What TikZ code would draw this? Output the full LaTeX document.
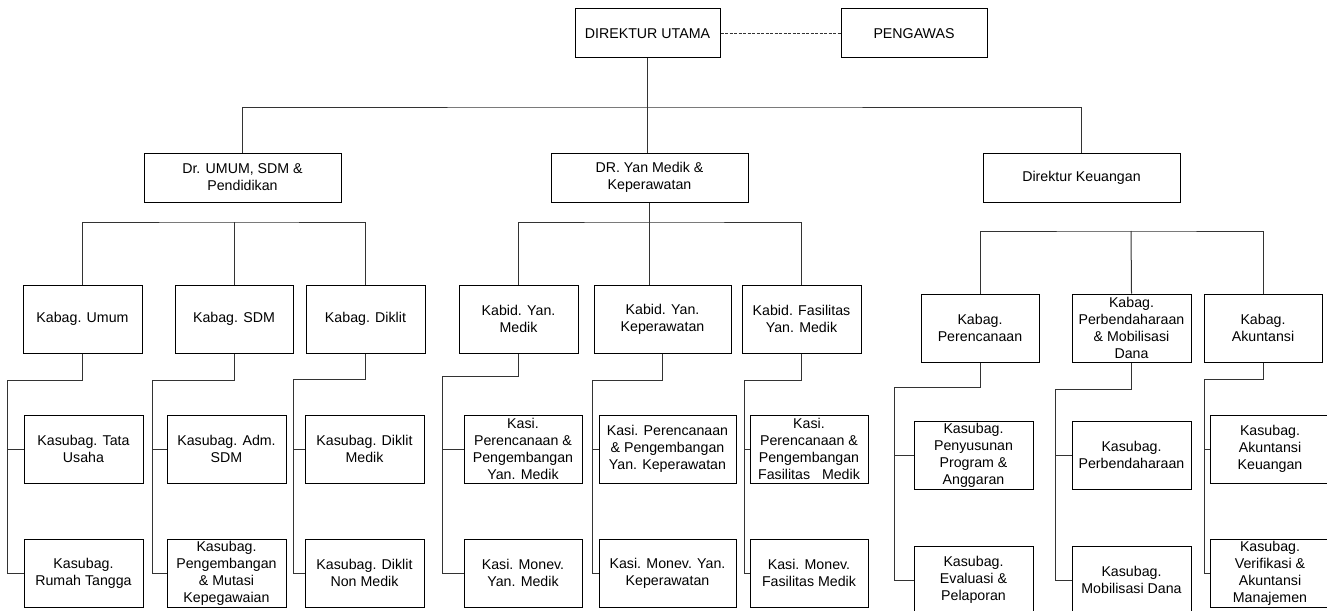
\documentclass[tikz,border=0pt]{standalone}
\usepackage{fontspec}
\setmainfont{Liberation Sans}
\tikzset{
  box/.style={draw=black, line width=1pt, inner sep=0pt, align=center, fill=white,
    font=\fontsize{14.2}{17}\selectfont},
  conn/.style={draw=black!80, line width=1pt},
  dashconn/.style={draw=black!80, line width=1pt, dash pattern=on 3pt off 1.5pt}
}
\newcommand{\boxat}[6]{\node[box,minimum width={(#3-#2)*1pt},minimum height={(#5-#4)*1pt}] (#1) at ({(#2+#3)/2},{(#4+#5)/2}) {#6};}
\begin{document}
\begin{tikzpicture}[x=1pt,y=-1pt]
\useasboundingbox (0,0) rectangle (1327,610);
\fill[white] (0,0) rectangle (1327,610);
\clip (0,0) rectangle (1327,610);

% level 1
\boxat{du}{575}{720}{9}{58}{DIREKTUR UTAMA}
\boxat{pg}{841}{987}{9}{58}{PENGAWAS}
% level 2
\boxat{d1}{144}{341}{153}{202}{Dr. UMUM, SDM \&\\Pendidikan}
\boxat{d2}{551}{748}{153}{202}{DR. Yan Medik \&\\Keperawatan}
\boxat{d3}{983}{1180}{153}{202}{Direktur Keuangan}
% level 3 left
\boxat{k1}{23}{142}{285}{353}{Kabag. Umum}
\boxat{k2}{175}{293}{285}{353}{Kabag. SDM}
\boxat{k3}{306}{425}{285}{353}{Kabag. Diklit}
% level 3 middle
\boxat{m1}{459}{578}{285}{353}{Kabid. Yan.\\Medik}
\boxat{m2}{594}{731}{285}{353}{Kabid. Yan.\\Keperawatan}
\boxat{m3}{742}{861}{285}{353}{Kabid. Fasilitas\\Yan. Medik}
% level 3 right
\boxat{r1}{921}{1039}{294}{362}{Kabag.\\Perencanaan}
\boxat{r2}{1072}{1191}{294}{362}{Kabag.\\Perbendaharaan\\\& Mobilisasi\\Dana}
\boxat{r3}{1204}{1322}{294}{362}{Kabag.\\Akuntansi}
% level 4/5 left
\boxat{s11}{24}{143}{415}{483}{Kasubag. Tata\\Usaha}
\boxat{s12}{24}{143}{539}{607}{Kasubag.\\Rumah Tangga}
\boxat{s21}{167}{286}{415}{483}{Kasubag. Adm.\\SDM}
\boxat{s22}{167}{286}{539}{607}{Kasubag.\\Pengembangan\\\& Mutasi\\Kepegawaian}
\boxat{s31}{305}{424}{415}{483}{Kasubag. Diklit\\Medik}
\boxat{s32}{305}{424}{539}{607}{Kasubag. Diklit\\Non Medik}
% level 4/5 middle
\boxat{t11}{464}{582}{415}{483}{Kasi.\\Perencanaan \&\\Pengembangan\\Yan. Medik}
\boxat{t12}{464}{582}{539}{607}{Kasi. Monev.\\Yan. Medik}
\boxat{t21}{599}{736}{415}{483}{Kasi. Perencanaan\\\& Pengembangan\\Yan. Keperawatan}
\boxat{t22}{599}{736}{539}{607}{Kasi. Monev. Yan.\\Keperawatan}
\boxat{t31}{750}{868}{415}{483}{Kasi.\\Perencanaan \&\\Pengembangan\\Fasilitas\ \ \ Medik}
\boxat{t32}{750}{868}{539}{607}{Kasi. Monev.\\Fasilitas Medik}
% level 4/5 right
\boxat{u11}{914}{1033}{421}{489}{Kasubag.\\Penyusunan\\Program \&\\Anggaran}
\boxat{u12}{914}{1033}{546}{614}{Kasubag.\\Evaluasi \&\\Pelaporan}
\boxat{u21}{1072}{1191}{421}{489}{Kasubag.\\Perbendaharaan}
\boxat{u22}{1072}{1191}{546}{614}{Kasubag.\\Mobilisasi Dana}
\boxat{u31}{1210}{1330}{415}{483}{Kasubag.\\Akuntansi\\Keuangan}
\boxat{u32}{1210}{1330}{539}{607}{Kasubag.\\Verifikasi \&\\Akuntansi\\Manajemen}

% top connectors
\draw[dashconn] (du.east) -- (pg.west);
\coordinate (bt) at (648,107);
\draw[conn] (du.south) -- (du.south |- d2.north);
\draw[conn] (d1.north) |- (bt) -| (d3.north);

% level 2 -> 3 buses
\coordinate (b1) at (234,222);
\draw[conn] (k1.north) |- (b1) -| (k3.north);
\draw[conn] (b1) -- (k2.north);
\coordinate (b2) at (649,222);
\draw[conn] (m1.north) |- (b2) -| (m3.north);
\draw[conn] (d2.south -| b2) -- (b2 |- m2.north);
\coordinate (b3) at (1131,231);
\draw[conn] (r1.north) |- (b3) -| (r3.north);
\draw[conn] (b3) -- (r2.north);

% level 3 -> 4/5 spines
\coordinate (a1) at (7,380);
\draw[conn] (k1.south) |- (a1) |- (s12.west);
\draw[conn] (a1 |- s11.west) -- (s11.west);
\coordinate (a2) at (152,380);
\draw[conn] (k2.south) |- (a2) |- (s22.west);
\draw[conn] (a2 |- s21.west) -- (s21.west);
\coordinate (a3) at (293,379);
\draw[conn] (k3.south) |- (a3) |- (s32.west);
\draw[conn] (a3 |- s31.west) -- (s31.west);

\coordinate (c1) at (442,376);
\draw[conn] (m1.south) |- (c1) |- (t12.west);
\draw[conn] (c1 |- t11.west) -- (t11.west);
\coordinate (c2) at (592,380);
\draw[conn] (m2.south) |- (c2) |- (t22.west);
\draw[conn] (c2 |- t21.west) -- (t21.west);
\coordinate (c3) at (744,380);
\draw[conn] (m3.south) |- (c3) |- (t32.west);
\draw[conn] (c3 |- t31.west) -- (t31.west);

\coordinate (e1) at (894,387);
\draw[conn] (r1.south) |- (e1) |- (u12.west);
\draw[conn] (e1 |- u11.west) -- (u11.west);
\coordinate (e2) at (1055,389);
\draw[conn] (r2.south) |- (e2) |- (u22.west);
\draw[conn] (e2 |- u21.west) -- (u21.west);
\coordinate (e3) at (1204,379);
\draw[conn] (r3.south) |- (e3) |- (u32.west);
\draw[conn] (e3 |- u31.west) -- (u31.west);
\end{tikzpicture}
\end{document}
